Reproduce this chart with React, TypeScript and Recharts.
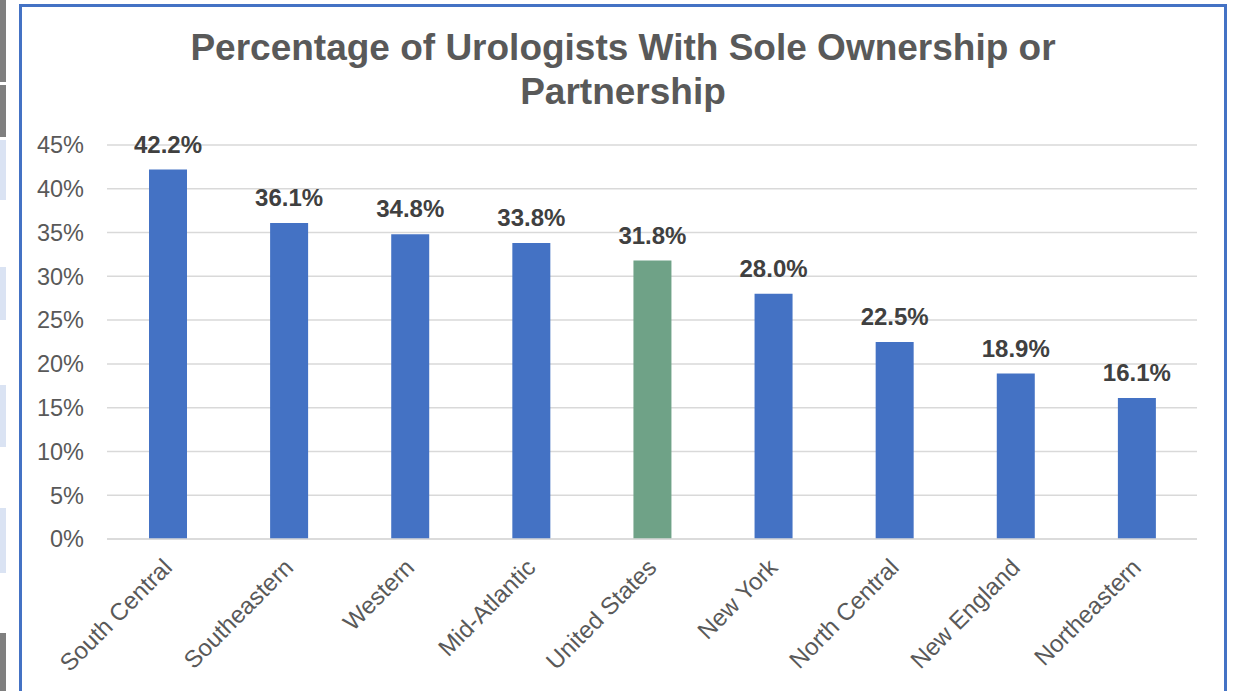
import { BarChart, Bar, XAxis, YAxis, CartesianGrid, Cell, LabelList } from 'recharts';

const regions = [
  'South Central',
  'Southeastern',
  'Western',
  'Mid-Atlantic',
  'United States',
  'New York',
  'North Central',
  'New England',
  'Northeastern',
];
const soleOrPartnerPct = [42.2, 36.1, 34.8, 33.8, 31.8, 28.0, 22.5, 18.9, 16.1];
const yTicks = [0, 5, 10, 15, 20, 25, 30, 35, 40, 45];

const BLUE = '#4472C4';
const GREEN = '#6FA287';

const data = regions.map((region, i) => ({ region, pct: soleOrPartnerPct[i] }));

const font = '"Liberation Sans", Arial, sans-serif';

// rotated category label, end of text sits just right/below the tick
const RegionTick = (props: any) => {
  const { x, y, payload } = props;
  const tx = x + 6;
  const ty = y + 30;
  return (
    <text
      x={tx}
      y={ty}
      transform={`rotate(-45, ${tx}, ${ty})`}
      textAnchor="end"
      fill="#595959"
      fontSize={24}
      fontFamily={font}
    >
      {payload.value}
    </text>
  );
};

const sideBlocks = [
  { top: 0, h: 82, c: '#7f7f7f' },
  { top: 85, h: 52, c: '#7f7f7f' },
  { top: 140, h: 60, c: '#dae3f3' },
  { top: 267, h: 53, c: '#dae3f3' },
  { top: 385, h: 62, c: '#dae3f3' },
  { top: 508, h: 65, c: '#dae3f3' },
  { top: 633, h: 58, c: '#7f7f7f' },
];

const App = () => {
  return (
    <div
      style={{
        position: 'absolute',
        left: 0,
        top: 0,
        width: 1235,
        height: 691,
        overflow: 'hidden',
        background: '#fff',
        fontFamily: font,
      }}
    >
      {sideBlocks.map((b, i) => (
        <div
          key={i}
          style={{ position: 'absolute', left: 0, top: b.top, width: 6, height: b.h, background: b.c }}
        />
      ))}
      <div
        style={{
          position: 'absolute',
          left: 19,
          top: 4,
          width: 1208,
          height: 720,
          border: `3px solid ${BLUE}`,
          boxSizing: 'border-box',
        }}
      />
      <div
        style={{
          position: 'absolute',
          left: 19,
          top: 26,
          width: 1208,
          textAlign: 'center',
          fontSize: 37,
          lineHeight: '44px',
          fontWeight: 'bold',
          color: '#595959',
        }}
      >
        Percentage of Urologists With Sole Ownership or
        <br />
        Partnership
      </div>
      <div style={{ position: 'absolute', left: 0, top: 0 }}>
        <BarChart
          width={1235}
          height={691}
          data={data}
          margin={{ top: 145, right: 38, left: 27, bottom: 12 }}
          barSize={38}
        >
          <CartesianGrid vertical={false} stroke="#d9d9d9" strokeWidth={1.5} />
          <XAxis
            dataKey="region"
            interval={0}
            height={140}
            tickSize={0}
            tickMargin={0}
            tickLine={false}
            axisLine={{ stroke: '#d9d9d9', strokeWidth: 1.5 }}
            tick={<RegionTick />}
          />
          <YAxis
            width={80}
            domain={[0, 45]}
            ticks={yTicks}
            tickFormatter={(v: number) => `${v}%`}
            tickSize={0}
            tickMargin={23}
            axisLine={false}
            tickLine={false}
            tick={{ fill: '#595959', fontSize: 23.5, fontFamily: font }}
          />
          <Bar dataKey="pct" isAnimationActive={false}>
            {data.map((d) => (
              <Cell key={d.region} fill={d.region === 'United States' ? GREEN : BLUE} />
            ))}
            <LabelList
              dataKey="pct"
              position="top"
              offset={17}
              formatter={(v: any) => `${Number(v).toFixed(1)}%`}
              fill="#404040"
              fontSize={24}
              fontWeight="bold"
              fontFamily={font}
            />
          </Bar>
        </BarChart>
      </div>
    </div>
  );
};

export default App;
